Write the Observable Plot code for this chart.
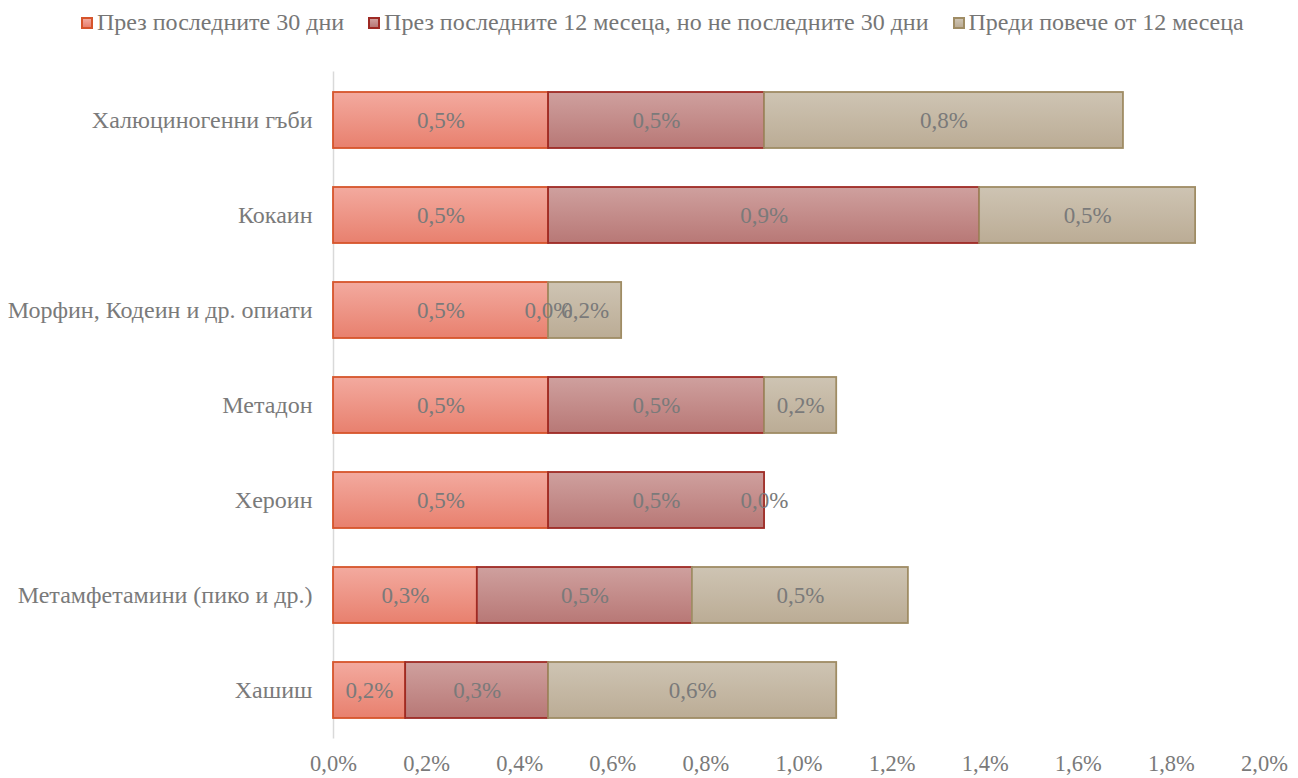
<!DOCTYPE html>
<html>
<head>
<meta charset="utf-8">
<script src="https://cdn.jsdelivr.net/npm/d3@7"></script>
<script src="https://cdn.jsdelivr.net/npm/@observablehq/plot@0.6"></script>
<style>
  html, body { margin: 0; padding: 0; background: #fff; }
  body { width: 1298px; height: 778px; overflow: hidden; font-family: "Liberation Serif", "Times New Roman", serif; }
  #legend { height: 44px; display: flex; align-items: center; padding-left: 81px; font-size: 24px; color: #767676; white-space: nowrap; }
  .item { display: flex; align-items: center; margin-right: 24px; }
  .sw { width: 8px; height: 8px; border: 2px solid; margin-right: 4px; margin-top: 1px; }
</style>
</head>
<body>
<div id="legend"></div>
<div id="chart"></div>
<script>
const categories = ["Халюциногенни гъби", "Кокаин", "Морфин, Кодеин и др. опиати", "Метадон", "Хероин", "Метамфетамини (пико и др.)", "Хашиш"];
const seriesNames = ["През последните 30 дни", "През последните 12 месеца, но не последните 30 дни", "Преди повече от 12 месеца"];
const last30 = [0.462, 0.462, 0.462, 0.462, 0.462, 0.309, 0.155];
const last12 = [0.464, 0.926, 0.0, 0.464, 0.464, 0.462, 0.307];
const older = [0.771, 0.464, 0.157, 0.155, 0.0, 0.464, 0.619];
const xTicks = [0, 0.2, 0.4, 0.6, 0.8, 1.0, 1.2, 1.4, 1.6, 1.8, 2.0];

const seriesValues = [last30, last12, older];
const gradIds = ["g1", "g2", "g3"];
const gradStops = [["#f3aa9f", "#e8806e"], ["#cfa09e", "#b87876"], ["#cec4b3", "#bbac95"]];
const strokes = ["#d6542b", "#9e2a24", "#9f8c64"];

const data = [];
categories.forEach((c, i) => {
  seriesNames.forEach((s, j) => {
    data.push({category: c, series: s, value: seriesValues[j][i], stroke: strokes[j]});
  });
});

const fmt = v => v.toFixed(1).replace(".", ",") + "%";
const textColor = "#7a7a7a";

const plot = Plot.plot({
  width: 1298,
  height: 734,
  marginLeft: 333,
  marginRight: 34,
  marginTop: 27.5,
  marginBottom: 39.5,
  style: {fontFamily: "'Liberation Serif', 'Times New Roman', serif", fontSize: "23px", color: textColor, background: "white"},
  x: {domain: [0, 2], ticks: xTicks, tickFormat: fmt, label: null},
  y: {domain: categories, paddingInner: 0.4126, paddingOuter: 0.2063, label: null},
  color: {domain: seriesNames, range: gradIds.map(id => `url(#${id})`)},
  marks: [
    Plot.ruleX([0], {stroke: "#d9d9d9", strokeWidth: 1.5}),
    Plot.barX(data, Plot.stackX({x: "value", y: "category", z: "series", fill: "series", stroke: "stroke", strokeWidth: 1.8, inset: 0})),
    Plot.text(data, Plot.stackX({x: "value", y: "category", z: "series", text: d => fmt(d.value), fill: textColor, fontSize: 23})),
    Plot.axisX({ticks: xTicks, tickFormat: fmt, tickSize: 0, tickPadding: 16, fontSize: 22.5, label: null, fill: textColor}),
    Plot.axisY({tickSize: 0, tickPadding: 21, fontSize: 24, label: null, fill: textColor})
  ]
});

// gradient definitions
const ns = "http://www.w3.org/2000/svg";
const defs = document.createElementNS(ns, "defs");
gradIds.forEach((id, k) => {
  const lg = document.createElementNS(ns, "linearGradient");
  lg.setAttribute("id", id);
  lg.setAttribute("x1", "0"); lg.setAttribute("y1", "0");
  lg.setAttribute("x2", "0"); lg.setAttribute("y2", "1");
  gradStops[k].forEach((col, m) => {
    const st = document.createElementNS(ns, "stop");
    st.setAttribute("offset", m === 0 ? "0" : "1");
    st.setAttribute("stop-color", col);
    lg.appendChild(st);
  });
  defs.appendChild(lg);
});
plot.insertBefore(defs, plot.firstChild);
document.getElementById("chart").appendChild(plot);

// legend
const legend = document.getElementById("legend");
seriesNames.forEach((s, j) => {
  const item = document.createElement("div");
  item.className = "item";
  const sw = document.createElement("div");
  sw.className = "sw";
  sw.style.background = `linear-gradient(${gradStops[j][0]}, ${gradStops[j][1]})`;
  sw.style.borderColor = strokes[j];
  const lab = document.createElement("span");
  lab.textContent = s;
  item.appendChild(sw);
  item.appendChild(lab);
  legend.appendChild(item);
});
</script>
</body>
</html>
